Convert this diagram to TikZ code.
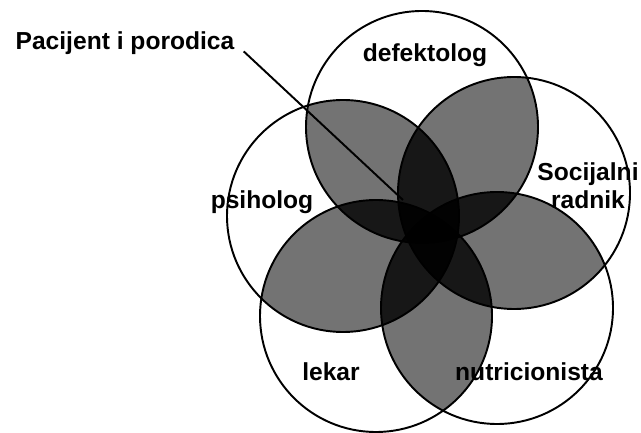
\documentclass[tikz,border=0pt]{standalone}
\usepackage{fontspec}
\setmainfont{Liberation Sans}
\usetikzlibrary{positioning}

\begin{document}
\begin{tikzpicture}[x=0.02cm, y=0.02cm,
    every node/.style={font=\bfseries\fontsize{14}{16}\selectfont, inner sep=0pt},
    ring/.style={line width=1.1pt},
    lens/.style={fill=black, fill opacity=0.55}]
  \useasboundingbox (0,0) rectangle (641,432);
  \def\rad{116}
  % centres of the five circles
  \coordinate (cT) at (422,305);
  \coordinate (cR) at (514,239);
  \coordinate (cL) at (343,216);
  \coordinate (cBL) at (376,116);
  \coordinate (cBR) at (497,124);
  % every pairwise overlap gets one gray layer
  \foreach \a/\b in {T/R,T/L,T/BL,T/BR,R/L,R/BL,R/BR,L/BL,L/BR,BL/BR} {
    \begin{scope}
      \clip (c\a) circle (\rad);
      \fill[lens] (c\b) circle (\rad);
    \end{scope}
  }
  \foreach \c in {T,R,L,BL,BR}
    \draw[ring] (c\c) circle (\rad);
  % labels
  \node (defekt) at (425,377) {defektolog};
  \node[align=center] (socrad) at (588,246) {Socijalni\\radnik};
  \node (psih) at (262,230) {psiholog};
  \node (lekar) at (331,60) {lekar};
  \node (nutri) at (529,60) {nutricionista};
  \node (pac) at (125,389) {Pacijent i porodica};
  \coordinate (core) at (403,232);
  \draw[ring, shorten <=7pt] (pac.east) -- (core);
\end{tikzpicture}
\end{document}
